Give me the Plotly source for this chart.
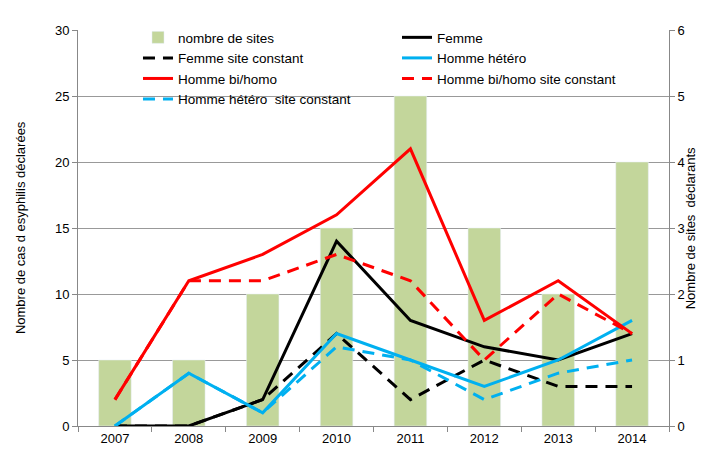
import plotly.graph_objects as go

years = ["2007", "2008", "2009", "2010", "2011", "2012", "2013", "2014"]
nb_sites = [1, 1, 2, 3, 5, 3, 2, 4]
femme = [0, 0, 2, 14, 8, 6, 5, 7]
femme_const = [0, 0, 2, 7, 2, 5, 3, 3]
hetero = [0, 4, 1, 7, 5, 3, 5, 8]
hetero_const = [0, 4, 1, 6, 5, 2, 4, 5]
bihomo = [2, 11, 13, 16, 21, 8, 11, 7]
bihomo_const = [2, 11, 11, 13, 11, 5, 10, 7]

FONT = "Liberation Sans, Arial, sans-serif"
dash = "12px,8px"

fig = go.Figure()
fig.add_trace(go.Bar(x=years, y=nb_sites, name="nombre de sites", marker_color="#C3D69B",
                     yaxis="y2", width=0.44))
fig.add_trace(go.Scatter(x=years, y=femme, name="Femme", mode="lines",
                         line=dict(color="black", width=3)))
fig.add_trace(go.Scatter(x=years, y=femme_const, name="Femme site constant", mode="lines",
                         line=dict(color="black", width=3, dash=dash)))
fig.add_trace(go.Scatter(x=years, y=hetero, name="Homme hétéro", mode="lines",
                         line=dict(color="#00B0F0", width=3)))
fig.add_trace(go.Scatter(x=years, y=bihomo, name="Homme bi/homo", mode="lines",
                         line=dict(color="#FF0000", width=3)))
fig.add_trace(go.Scatter(x=years, y=bihomo_const, name="Homme bi/homo site constant", mode="lines",
                         line=dict(color="#FF0000", width=3, dash=dash)))
fig.add_trace(go.Scatter(x=years, y=hetero_const, name="Homme hétéro  site constant", mode="lines",
                         line=dict(color="#00B0F0", width=3, dash=dash)))

fig.update_layout(
    width=707, height=450,
    margin=dict(l=70, r=46, t=22, b=19),
    paper_bgcolor="white", plot_bgcolor="rgba(0,0,0,0)",
    font=dict(family=FONT, size=13, color="black"),
    showlegend=True,
    legend=dict(orientation="h", x=0.1015, y=1.02, xanchor="left", yanchor="top",
                entrywidth=214, entrywidthmode="pixels", bgcolor="rgba(0,0,0,0)",
                font=dict(family=FONT, size=13.5), traceorder="normal"),
    xaxis=dict(type="category", showgrid=False, showline=True, linecolor="#888888",
               ticks="outside", tickson="boundaries", ticklen=5, tickcolor="#888888",
               tickfont=dict(size=13), zeroline=False),
    yaxis=dict(range=[0, 30], dtick=5, showgrid=True, gridcolor="#999999", gridwidth=1,
               showline=True, linecolor="#888888", ticks="outside", ticklen=5,
               tickcolor="#888888", zeroline=False,
               layer="below traces", overlaying="y2"),
    yaxis2=dict(range=[0, 6], dtick=1, side="right", showgrid=False,
                showline=True, linecolor="#888888", ticks="outside", ticklen=5,
                tickcolor="#888888", zeroline=False),
    annotations=[
        dict(text="Nombre de cas d esyphilis déclarées", xref="paper", yref="paper",
             x=-0.098, y=0.5, xanchor="center", yanchor="middle", textangle=-90,
             showarrow=False, font=dict(size=13)),
        dict(text="Nombre de sites  déclarants", xref="paper", yref="paper",
             x=1.036, y=0.5, xanchor="center", yanchor="middle", textangle=-90,
             showarrow=False, font=dict(size=13)),
    ],
)
fig.write_html("out.html")
